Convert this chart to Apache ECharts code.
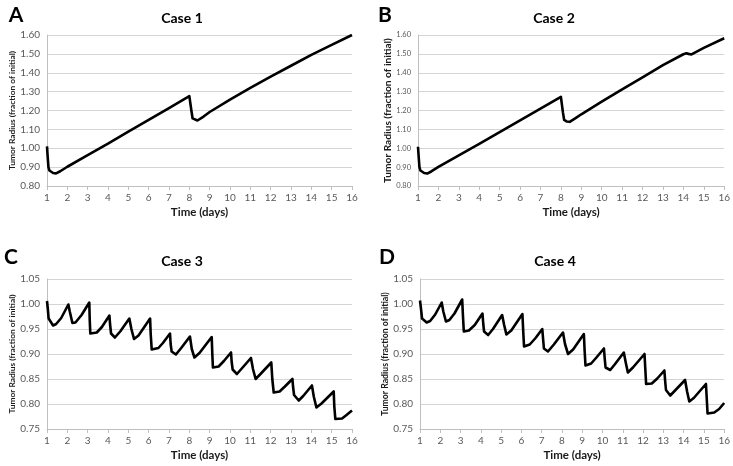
<!DOCTYPE html>
<html>
<head>
<meta charset="utf-8">
<script src="https://cdn.jsdelivr.net/npm/echarts@6/dist/echarts.min.js"></script>
<style>
html,body{margin:0;padding:0;background:#fff;}
#chart{width:733px;height:466px;}
</style>
</head>
<body>
<div id="chart"></div>
<script>
// ---- data ----
const panelLetters = ['A', 'B', 'C', 'D'];
const panelTitles = ['Case 1', 'Case 2', 'Case 3', 'Case 4'];
const xAxisName = 'Time (days)';
const yAxisName = 'Tumor Radius (fraction of initial)';
const dayTicks = [1, 16, 1]; // min, max, step

const case1Days   = [1, 1.03, 1.07, 1.12, 1.2, 1.3, 1.45, 1.65, 2, 3, 4, 5, 6, 7, 8, 8.06, 8.1, 8.16, 8.25, 8.4, 8.7, 9, 10, 11, 12, 13, 14, 15, 16];
const case1Radius = [1.01, 0.96, 0.9, 0.882, 0.873, 0.869, 0.867, 0.878, 0.902, 0.963, 1.025, 1.088, 1.15, 1.213, 1.276, 1.282, 1.2, 1.158, 1.15, 1.147, 1.168, 1.192, 1.258, 1.32, 1.38, 1.437, 1.495, 1.548, 1.6];

const case2Days   = [1, 1.03, 1.07, 1.12, 1.2, 1.3, 1.45, 1.65, 2, 3, 4, 5, 6, 7, 8, 8.06, 8.1, 8.16, 8.28, 8.43, 8.7, 9, 10, 11, 12, 13, 14, 14.15, 14.25, 14.4, 15, 16];
const case2Radius = [1.008, 0.96, 0.9, 0.882, 0.873, 0.869, 0.866, 0.877, 0.901, 0.962, 1.023, 1.085, 1.148, 1.21, 1.272, 1.278, 1.19, 1.15, 1.142, 1.14, 1.158, 1.18, 1.247, 1.312, 1.376, 1.44, 1.498, 1.503, 1.5, 1.497, 1.532, 1.583];

const case3Days   = [1, 1.04, 1.08, 1.15, 1.3, 1.45, 1.7, 2.05, 2.12, 2.25, 2.4, 2.7, 3.08, 3.1, 3.13, 3.45, 3.7, 4.07, 4.1, 4.15, 4.2, 4.34, 4.6, 5.05, 5.15, 5.28, 5.5, 6.07, 6.1, 6.15, 6.48, 6.7, 7.05, 7.08, 7.13, 7.2, 7.34, 7.6, 8.03, 8.12, 8.25, 8.5, 9.1, 9.13, 9.16, 9.44, 9.7, 10.05, 10.08, 10.13, 10.2, 10.34, 10.6, 11.03, 11.13, 11.26, 11.5, 12.03, 12.08, 12.15, 12.44, 12.7, 13.07, 13.1, 13.15, 13.22, 13.38, 13.6, 14.03, 14.12, 14.25, 14.5, 15.1, 15.13, 15.18, 15.51, 15.7, 16];
const case3Radius = [1.006, 0.99, 0.971, 0.967, 0.957, 0.96, 0.972, 0.999, 0.985, 0.962, 0.963, 0.978, 1.003, 0.97, 0.941, 0.943, 0.954, 0.977, 0.96, 0.941, 0.939, 0.933, 0.945, 0.971, 0.95, 0.93, 0.937, 0.971, 0.94, 0.909, 0.912, 0.922, 0.941, 0.92, 0.905, 0.903, 0.899, 0.912, 0.935, 0.91, 0.893, 0.902, 0.934, 0.9, 0.873, 0.875, 0.886, 0.903, 0.885, 0.869, 0.866, 0.86, 0.872, 0.892, 0.87, 0.85, 0.86, 0.883, 0.85, 0.823, 0.825, 0.835, 0.85, 0.835, 0.818, 0.815, 0.807, 0.816, 0.837, 0.815, 0.793, 0.801, 0.825, 0.795, 0.77, 0.771, 0.777, 0.787];

const case4Days   = [1, 1.05, 1.1, 1.18, 1.33, 1.5, 1.75, 2.07, 2.15, 2.28, 2.45, 2.7, 3.08, 3.12, 3.16, 3.41, 3.7, 4.08, 4.12, 4.16, 4.22, 4.36, 4.6, 5.05, 5.15, 5.26, 5.5, 6.05, 6.09, 6.13, 6.41, 6.7, 7.03, 7.07, 7.11, 7.18, 7.31, 7.6, 8.05, 8.15, 8.3, 8.55, 9.08, 9.12, 9.16, 9.44, 9.7, 10.07, 10.11, 10.15, 10.22, 10.38, 10.6, 11.05, 11.15, 11.25, 11.5, 12.07, 12.11, 12.15, 12.43, 12.7, 13.05, 13.09, 13.13, 13.2, 13.34, 13.6, 14.07, 14.17, 14.28, 14.5, 15.1, 15.14, 15.18, 15.51, 15.75, 16];
const case4Radius = [1.007, 0.99, 0.971, 0.969, 0.963, 0.966, 0.979, 1.003, 0.985, 0.965, 0.968, 0.981, 1.009, 0.975, 0.945, 0.947, 0.958, 0.981, 0.96, 0.945, 0.943, 0.938, 0.95, 0.978, 0.958, 0.939, 0.947, 0.98, 0.945, 0.915, 0.919, 0.932, 0.95, 0.93, 0.911, 0.909, 0.905, 0.919, 0.943, 0.92, 0.9, 0.909, 0.94, 0.905, 0.877, 0.881, 0.893, 0.911, 0.89, 0.873, 0.871, 0.868, 0.879, 0.903, 0.882, 0.863, 0.873, 0.9, 0.87, 0.84, 0.841, 0.851, 0.867, 0.845, 0.828, 0.825, 0.817, 0.828, 0.848, 0.825, 0.805, 0.812, 0.84, 0.81, 0.781, 0.783, 0.79, 0.802];

const yRangeTop = [0.8, 1.6, 0.1];      // min, max, step for cases 1-2
const yRangeBottom = [0.75, 1.05, 0.05]; // min, max, step for cases 3-4

// ---- layout ----
const FONT = 'Lato';
const grids = [
  {left: 47,  top: 35,  width: 305, height: 151},
  {left: 418, top: 35,  width: 307, height: 151},
  {left: 47,  top: 279, width: 305, height: 150},
  {left: 420, top: 279, width: 305, height: 150}
];
const titlePos = [[182, 18], [554, 18], [182, 261], [555, 261]];
const letterPos = [[16, 15], [385, 15], [11, 257], [387, 257]];
const yLabelSize = [10, 7.5, 10, 10];
const yNameSize = [8.4, 10.2, 8.4, 8.7];
const yNameGap = [28, 25, 29, 28];

const caseDays = [case1Days, case2Days, case3Days, case4Days];
const caseRadius = [case1Radius, case2Radius, case3Radius, case4Radius];
const yRanges = [yRangeTop, yRangeTop, yRangeBottom, yRangeBottom];

const chart = echarts.init(document.getElementById('chart'), null, {renderer: 'canvas'});

const option = {
  backgroundColor: '#ffffff',
  animation: false,
  textStyle: {fontFamily: FONT},
  grid: grids.map(g => Object.assign({containLabel: false}, g)),
  xAxis: [],
  yAxis: [],
  series: [],
  graphic: []
};

for (let i = 0; i < 4; i++) {
  option.graphic.push({
    type: 'text', x: titlePos[i][0], y: titlePos[i][1],
    style: {text: panelTitles[i], font: 'bold 14px ' + FONT, fill: '#000', textAlign: 'center', textVerticalAlign: 'middle'}
  });
  option.graphic.push({
    type: 'text', x: letterPos[i][0], y: letterPos[i][1],
    style: {text: panelLetters[i], font: 'bold 21px ' + FONT, fill: '#000', textAlign: 'center', textVerticalAlign: 'middle'}
  });
  const yr = yRanges[i];
  option.xAxis.push({
    type: 'value', gridIndex: i, min: dayTicks[0], max: dayTicks[1], interval: dayTicks[2],
    name: xAxisName, nameLocation: 'middle', nameGap: 20,
    nameTextStyle: {fontFamily: FONT, fontWeight: 'bold', fontSize: 11.5, color: '#1a1a1a'},
    axisLine: {show: true, lineStyle: {color: '#bfbfbf', width: 1}},
    axisTick: {show: true, length: 4, inside: false, lineStyle: {color: '#bfbfbf'}},
    axisLabel: {fontFamily: FONT, fontSize: 10, color: '#595959', margin: 7},
    splitLine: {show: false}
  });
  option.yAxis.push({
    type: 'value', gridIndex: i, min: yr[0], max: yr[1], interval: yr[2],
    name: yAxisName, nameLocation: 'middle', nameGap: yNameGap[i], nameRotate: 90,
    nameTextStyle: {fontFamily: FONT, fontWeight: 'bold', fontSize: yNameSize[i], color: '#1a1a1a'},
    axisLine: {show: true, lineStyle: {color: '#bfbfbf', width: 1}},
    axisTick: {show: false},
    axisLabel: {fontFamily: FONT, fontSize: yLabelSize[i], color: '#595959', margin: 7,
      formatter: v => v.toFixed(2)},
    splitLine: {show: true, lineStyle: {color: '#d4d4d4', width: 1}}
  });
  option.series.push({
    type: 'line', xAxisIndex: i, yAxisIndex: i,
    showSymbol: false, symbol: 'none', smooth: false,
    lineStyle: {color: '#000', width: 2.6, join: 'round'},
    data: caseDays[i].map((d, k) => [d, caseRadius[i][k]])
  });
}

chart.setOption(option);
</script>
</body>
</html>
